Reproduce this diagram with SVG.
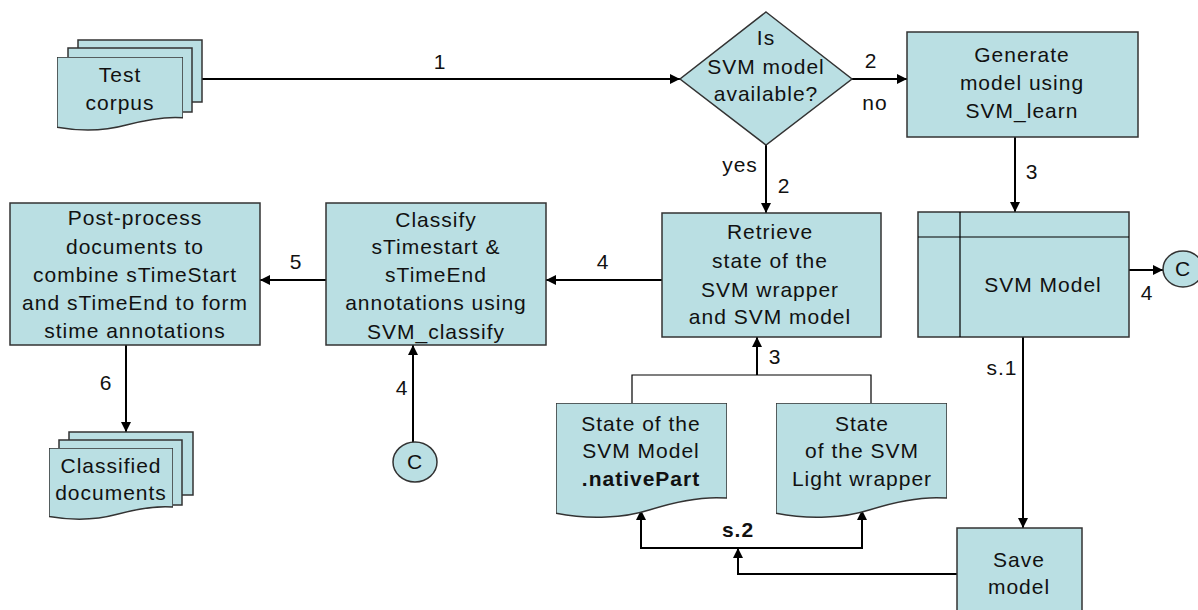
<svg xmlns="http://www.w3.org/2000/svg" xmlns:xlink="http://www.w3.org/1999/xlink" width="1198" height="610" viewBox="0 0 1198 610">
<style>
.shape{fill:#badfe3;stroke:#333;stroke-width:1.5}
.t{font-family:"Liberation Sans",Arial,sans-serif;font-size:21px;letter-spacing:1px;fill:#111;text-anchor:middle}
.b{font-weight:bold}
.c{fill:none;stroke:#000;stroke-width:2}
.thin{fill:none;stroke:#000;stroke-width:1.2}
</style>
<defs>
<marker id="ah" viewBox="0 0 10 10" refX="10" refY="5" markerWidth="10" markerHeight="10" markerUnits="userSpaceOnUse" orient="auto">
<path d="M0,0 L10,5 L0,10 z" fill="#000"/>
</marker>
<symbol id="doc" viewBox="0 0 100 100" preserveAspectRatio="none">
<path d="M0,0 H100 V82 C85,80 70,85 55,92 C40,99 20,101 0,95 Z" class="shape" vector-effect="non-scaling-stroke"/>
</symbol>
</defs>
<rect width="1198" height="610" fill="#fff"/>

<g id="connectors">
<path class="c" d="M202,79 H680" marker-end="url(#ah)"/>
<path class="c" d="M852,79 H907" marker-end="url(#ah)"/>
<path class="c" d="M766,145 V213" marker-end="url(#ah)"/>
<path class="c" d="M1015,137 V212" marker-end="url(#ah)"/>
<path class="c" d="M1129,270 H1163" marker-end="url(#ah)"/>
<path class="c" d="M1023,337 V528" marker-end="url(#ah)"/>
<path class="c" d="M957,574 H738 V548" marker-end="url(#ah)"/>
<path class="c" d="M738,548 H641 V510" marker-end="url(#ah)"/>
<path class="c" d="M738,548 H862 V510" marker-end="url(#ah)"/>
<path class="thin" d="M632,403 V375 H871 V403"/>
<path class="c" d="M757,375 V337" marker-end="url(#ah)"/>
<path class="c" d="M662,280 H546" marker-end="url(#ah)"/>
<path class="c" d="M326,280 H260" marker-end="url(#ah)"/>
<path class="c" d="M126,345 V432" marker-end="url(#ah)"/>
<path class="c" d="M413,442 V345" marker-end="url(#ah)"/>
<text class="t" x="440" y="69">1</text>
<text class="t" x="871" y="68">2</text>
<text class="t" x="875" y="110">no</text>
<text class="t" x="740" y="172">yes</text>
<text class="t" x="784" y="193">2</text>
<text class="t" x="1032" y="179">3</text>
<text class="t" x="1147" y="300">4</text>
<text class="t" x="1002" y="375">s.1</text>
<text class="t b" x="738" y="537">s.2</text>
<text class="t" x="775" y="364">3</text>
<text class="t" x="603" y="269">4</text>
<text class="t" x="296" y="269">5</text>
<text class="t" x="106" y="390">6</text>
<text class="t" x="402" y="395">4</text>
</g>

<g id="test-corpus">
<rect class="shape" x="78" y="40" width="124" height="62"/>
<rect class="shape" x="68" y="48" width="124" height="64"/>
<use xlink:href="#doc" x="57" y="57" width="126" height="74"/>
<text class="t" x="120" y="82">Test</text>
<text class="t" x="120" y="110">corpus</text>
</g>

<g id="decision">
<polygon class="shape" points="766,12 852,79 766,145 680,79"/>
<text class="t" x="766" y="45">Is</text>
<text class="t" x="766" y="74">SVM model</text>
<text class="t" x="766" y="101">available?</text>
</g>

<g id="generate">
<rect class="shape" x="907" y="32" width="231" height="105"/>
<text class="t" x="1022" y="62">Generate</text>
<text class="t" x="1022" y="90">model using</text>
<text class="t" x="1022" y="118">SVM_learn</text>
</g>

<g id="svm-model">
<rect class="shape" x="918" y="212" width="211" height="125"/>
<path class="thin" d="M918,237 H1129 M960,212 V337" stroke="#333"/>
<text class="t" x="1043" y="292">SVM Model</text>
</g>

<g id="connector-c-right">
<ellipse class="shape" cx="1183" cy="269" rx="20" ry="18"/>
<text class="t" x="1183" y="276">C</text>
</g>

<g id="save-model">
<rect class="shape" x="957" y="528" width="125" height="90"/>
<text class="t" x="1019" y="567">Save</text>
<text class="t" x="1019" y="594">model</text>
</g>

<g id="state-model">
<use xlink:href="#doc" x="556" y="403" width="171" height="116"/>
<text class="t" x="641" y="431">State of the</text>
<text class="t" x="641" y="458">SVM Model</text>
<text class="t b" x="641" y="486">.nativePart</text>
</g>

<g id="state-wrapper">
<use xlink:href="#doc" x="776" y="403" width="171" height="116"/>
<text class="t" x="862" y="431">State</text>
<text class="t" x="862" y="458">of the SVM</text>
<text class="t" x="862" y="486">Light wrapper</text>
</g>

<g id="retrieve">
<rect class="shape" x="662" y="213" width="219" height="124"/>
<text class="t" x="770" y="239">Retrieve</text>
<text class="t" x="770" y="268">state of the</text>
<text class="t" x="770" y="297">SVM wrapper</text>
<text class="t" x="770" y="324">and SVM model</text>
</g>

<g id="classify">
<rect class="shape" x="326" y="203" width="220" height="142"/>
<text class="t" x="436" y="227">Classify</text>
<text class="t" x="436" y="254">sTimestart &amp;</text>
<text class="t" x="436" y="282">sTimeEnd</text>
<text class="t" x="436" y="310">annotations using</text>
<text class="t" x="436" y="339">SVM_classify</text>
</g>

<g id="post-process">
<rect class="shape" x="10" y="203" width="250" height="142"/>
<text class="t" x="135" y="225">Post-process</text>
<text class="t" x="135" y="254">documents to</text>
<text class="t" x="135" y="282">combine sTimeStart</text>
<text class="t" x="135" y="310">and sTimeEnd to form</text>
<text class="t" x="135" y="338">stime annotations</text>
</g>

<g id="classified-docs">
<rect class="shape" x="69" y="432" width="124" height="63"/>
<rect class="shape" x="59" y="440" width="123" height="65"/>
<use xlink:href="#doc" x="49" y="448" width="124" height="72"/>
<text class="t" x="111" y="473">Classified</text>
<text class="t" x="111" y="500">documents</text>
</g>

<g id="connector-c-bottom">
<ellipse class="shape" cx="415" cy="462" rx="22" ry="20"/>
<text class="t" x="415" y="469">C</text>
</g>
</svg>
